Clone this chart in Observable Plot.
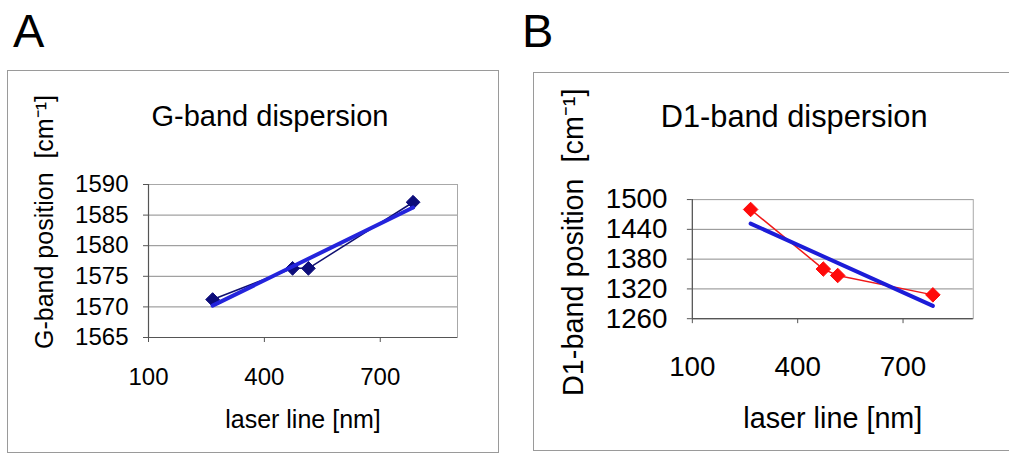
<!DOCTYPE html>
<html>
<head>
<meta charset="utf-8">
<script src="https://cdn.jsdelivr.net/npm/d3@7"></script>
<script src="https://cdn.jsdelivr.net/npm/@observablehq/plot@0.6"></script>
<style>
  html, body { margin: 0; padding: 0; background: #fff; }
  body { width: 1009px; height: 458px; position: relative; overflow: hidden;
         font-family: "Liberation Sans", Arial, sans-serif; }
  .letter { position: absolute; font-size: 47px; line-height: 47px; color: #000; }
  .panel { position: absolute; }
  .panel svg { display: block; border: 1.5px solid #9a9a9a; background: #fff; }
</style>
</head>
<body>
<div class="letter" style="left:13px; top:7px;">A</div>
<div class="letter" style="left:522px; top:7px;">B</div>
<div class="panel" id="panelA" style="left:7px; top:70px;"></div>
<div class="panel" id="panelB" style="left:532.5px; top:71.5px;"></div>
<script>
// ---- data ----
const laserLines = [266, 473, 514, 785];            // nm
const gBand = [1571.2, 1576.3, 1576.3, 1587.1];    // cm-1
const d1Band = [1480, 1360, 1347, 1308];           // cm-1
const xTicks = [100, 400, 700];
const gTicks = [1565, 1570, 1575, 1580, 1585, 1590];
const d1Ticks = [1260, 1320, 1380, 1440, 1500];
const titleA = "G-band dispersion";
const titleB = "D1-band dispersion";
const yLabelA = "G-band position  [cm\u207B\u00B9]";
const yLabelB = "D1-band position  [cm\u207B\u00B9]";
const xLabel = "laser line [nm]";

const FONT = "Liberation Sans, Arial, sans-serif";
const rowsA = laserLines.map((x, i) => ({x, y: gBand[i]}));
const rowsB = laserLines.map((x, i) => ({x, y: d1Band[i]}));

function panel(cfg) {
  const {rows, yTicks, title, yLabel, W, H, m, tickFont, titleFont, labelFont,
         yPad, xPad, titleDx, titleDy, xLabDy, yLabDx, yLabDy,
         lineColor, lineWidth, markColor, markR, trendColor} = cfg;
  const yDom = [yTicks[0], yTicks[yTicks.length - 1]];
  return Plot.plot({
    width: W, height: H,
    marginLeft: m[0], marginRight: m[1], marginTop: m[2], marginBottom: m[3],
    style: {fontFamily: FONT, fontSize: tickFont + "px", background: "#fff", color: "#000"},
    x: {domain: [100, 900]},
    y: {domain: yDom},
    marks: [
      Plot.gridY(yTicks, {stroke: "#8a8a8a", strokeOpacity: 1, strokeWidth: 1}),
      Plot.frame({stroke: "#a8a8a8", strokeWidth: 1}),
      Plot.axisY(yTicks, {tickSize: 5, tickPadding: yPad, fontSize: tickFont, stroke: "#555",
                          label: null, tickFormat: d => String(d)}),
      Plot.axisX(xTicks, {tickSize: 5, tickPadding: xPad, fontSize: tickFont, stroke: "#555",
                          label: null, tickFormat: d => String(d)}),
      Plot.ruleX([100], {stroke: "#555", strokeWidth: 1.2}),
      Plot.ruleY([yDom[0]], {stroke: "#555", strokeWidth: 1.2}),
      Plot.line(rows, {x: "x", y: "y", stroke: lineColor, strokeWidth: lineWidth}),
      Plot.dot(rows, {x: "x", y: "y", symbol: "diamond2", r: markR, fill: markColor, stroke: markColor, strokeWidth: 1}),
      Plot.linearRegressionY(rows, {x: "x", y: "y", ci: 0, stroke: trendColor, strokeWidth: 4}),
      Plot.text([title], {frameAnchor: "top", dx: titleDx, dy: titleDy, lineAnchor: "middle",
                          fontSize: titleFont, fill: "#000"}),
      Plot.text([xLabel], {frameAnchor: "bottom", dy: xLabDy, lineAnchor: "middle",
                           fontSize: labelFont, fill: "#000"}),
      Plot.text([yLabel], {frameAnchor: "left", dx: yLabDx, dy: yLabDy, rotate: -90,
                           lineAnchor: "middle", textAnchor: "middle", fontSize: labelFont, fill: "#000"})
    ]
  });
}

document.getElementById("panelA").append(panel({
  rows: rowsA, yTicks: gTicks, title: titleA, yLabel: yLabelA,
  W: 490, H: 381, m: [140, 41, 113, 115],
  tickFont: 24, titleFont: 29, labelFont: 25,
  yPad: 15, xPad: 25,
  titleDx: -33, titleDy: -68, xLabDy: 82, yLabDx: -104, yLabDy: -39,
  lineColor: "#101070", lineWidth: 1.5, markColor: "#0c0c7a", markR: 6.2, trendColor: "#2424dc"
}));

document.getElementById("panelB").append(panel({
  rows: rowsB, yTicks: d1Ticks, title: titleB, yLabel: yLabelB,
  W: 480, H: 380, m: [159, 38, 127, 133],
  tickFont: 28, titleFont: 31, labelFont: 29,
  yPad: 20, xPad: 33,
  titleDx: -39, titleDy: -83, xLabDy: 101, yLabDx: -119, yLabDy: -17,
  lineColor: "#f01818", lineWidth: 1.5, markColor: "#ff0a0a", markR: 6.6, trendColor: "#1c1cd8"
}));
</script>
</body>
</html>
